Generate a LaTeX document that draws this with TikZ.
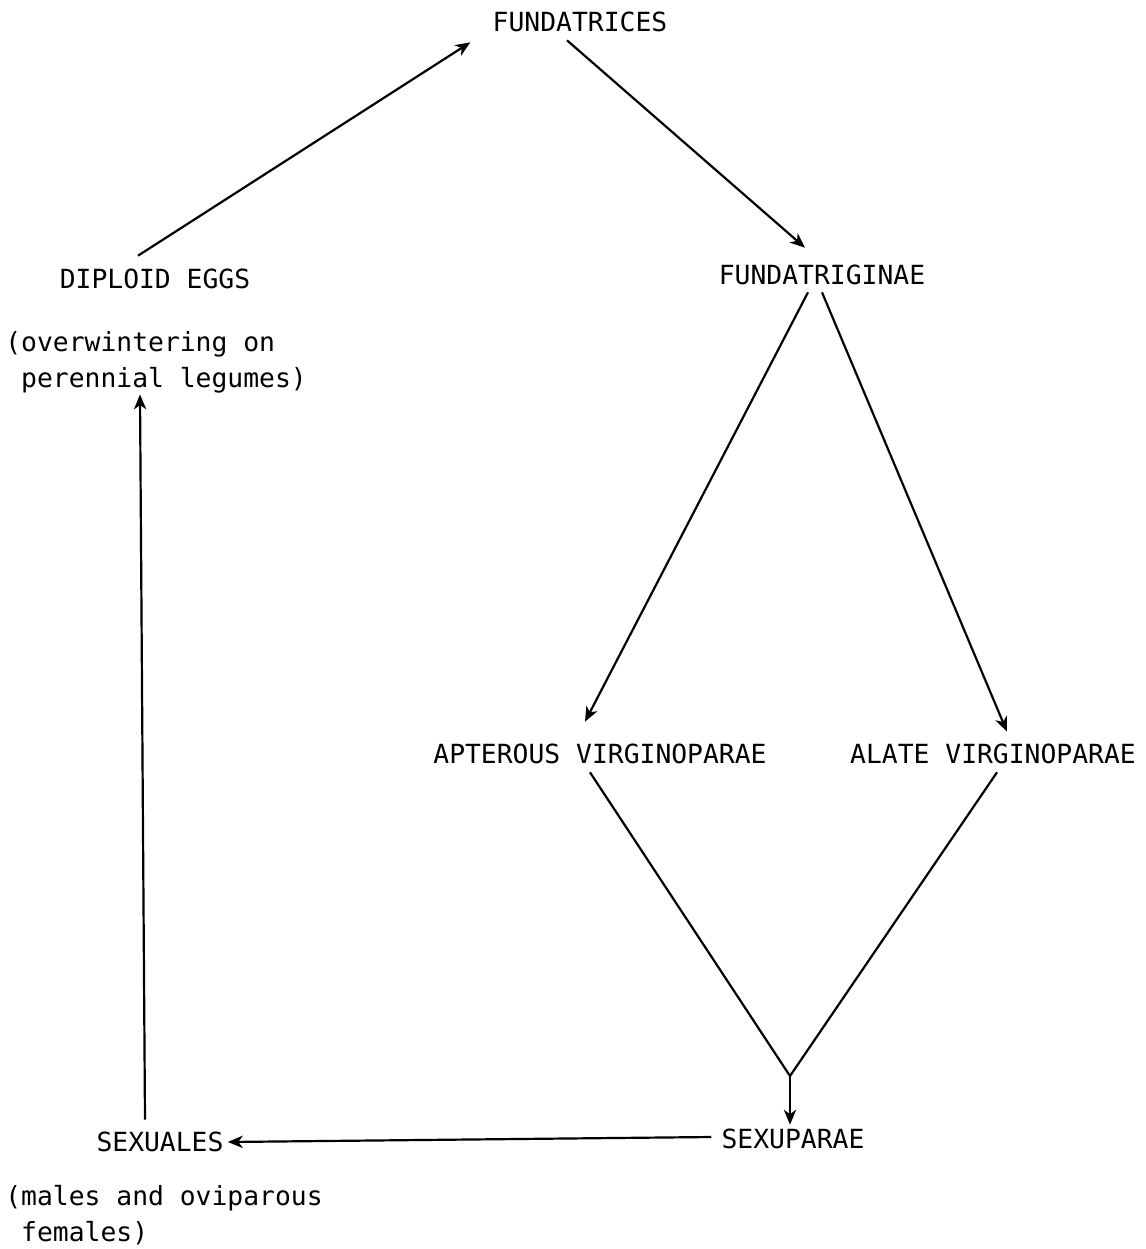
\documentclass[tikz,border=0pt]{standalone}
\usepackage{fontspec}
\setmonofont{DejaVu Sans Mono}
\usetikzlibrary{arrows.meta,positioning}

\begin{document}
\begin{tikzpicture}[x=0.02cm,y=-0.02cm,>={Stealth[length=8.5pt,width=7pt,inset=2.5pt]},
every node/.style={font=\ttfamily\fontsize{15}{20.5}\selectfont, inner sep=0pt},
stage/.style={anchor=center},
note/.style={align=left, anchor=north west},
link/.style={->, line width=1.25pt},
branch/.style={line width=1.25pt}]
\useasboundingbox (0,0) rectangle (1146,1249);

% life stages
\node [stage] (fdx) at (580,22) {FUNDATRICES};
\node [stage] (fgn) at (822,275) {FUNDATRIGINAE};
\node [stage] (dip) at (155,279) {DIPLOID EGGS};
\node [stage] (apt) at (600,754) {APTEROUS VIRGINOPARAE};
\node [stage] (ala) at (993,754) {ALATE VIRGINOPARAE};
\node [stage] (sxp) at (793,1139) {SEXUPARAE};
\node [stage] (sxl) at (160,1142) {SEXUALES};

% notes
\node [note] (ovw) at (5,331) {(overwintering on\\\hphantom{(}perennial legumes)};
\node [note] (mal) at (5,1185) {(males and oviparous\\\hphantom{(}females)};

\coordinate (merge) at (790,1076);

% cycle
\draw [link] ([shift={(-17,-13)}]dip.north) -- ([shift={(-22,10)}]fdx.south west);
\draw [link] ([shift={(-13,8)}]fdx.south) -- ([shift={(-17,-17)}]fgn.north);
\draw [link] ([shift={(-14,7)}]fgn.south) -- ([shift={(-15,-22)}]apt.north);
\draw [link] ([shift={(0,7)}]fgn.south) -- ([shift={(14,-12)}]ala.north);
\draw [branch] ([shift={(-10,8)}]apt.south) -- (merge);
\draw [branch] ([shift={(4,8)}]ala.south) -- (merge);
\draw [link] (merge) -- ([shift={(-3,-4)}]sxp.north);
\draw [link] ([shift={(-10,-2)}]sxp.west) -- ([shift={(4,0)}]sxl.east);
\draw [link] ([shift={(-15,-12)}]sxl.north) -- ([shift={(135,1)}]ovw.south west);
\end{tikzpicture}
\end{document}
